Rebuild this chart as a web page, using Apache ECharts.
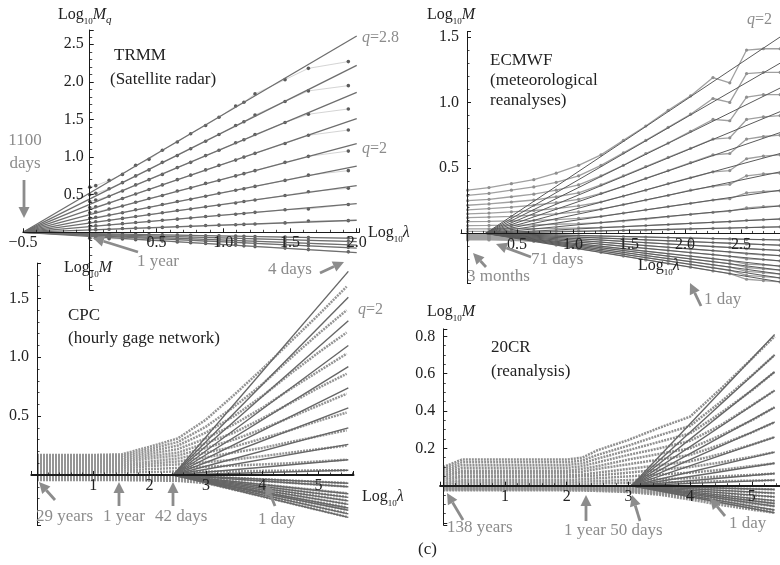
<!DOCTYPE html>
<html>
<head>
<meta charset="utf-8">
<script src="https://cdn.jsdelivr.net/npm/echarts@6/dist/echarts.min.js"></script>
<style>
  html, body { margin: 0; background: #fff; }
  #chart { width: 780px; height: 565px; }
</style>
</head>
<body>
<div id="chart"></div>
<script>
// ---------- TRMM (satellite radar) ----------
var trmmX = [0, 0.045, 0.145, 0.245, 0.344, 0.444, 0.544, 0.656, 0.756, 0.868, 0.968, 1.093, 1.155, 1.238, 1.463, 1.638, 1.937];
var trmmFitX = [-0.5, 2.0];
var trmmFitEnd = [2.61, 2.22, 1.86, 1.51, 1.18, 0.88, 0.62, 0.38, 0.16, -0.08, -0.125, -0.17, -0.21, -0.27];
var trmmM = [
  [0.60, 0.62, 0.69, 0.77, 0.89, 0.97, 1.09, 1.20, 1.31, 1.42, 1.53, 1.68, 1.73, 1.84, 2.03, 2.18, 2.27],
  [0.50, 0.52, 0.58, 0.66, 0.75, 0.83, 0.93, 1.02, 1.11, 1.21, 1.30, 1.42, 1.47, 1.56, 1.74, 1.88, 1.95],
  [0.41, 0.43, 0.48, 0.55, 0.63, 0.70, 0.77, 0.86, 0.93, 1.02, 1.09, 1.19, 1.23, 1.30, 1.46, 1.57, 1.64],
  [0.33, 0.34, 0.39, 0.45, 0.51, 0.57, 0.63, 0.70, 0.76, 0.83, 0.89, 0.96, 1.00, 1.05, 1.18, 1.29, 1.36],
  [0.26, 0.27, 0.31, 0.35, 0.40, 0.45, 0.49, 0.55, 0.59, 0.65, 0.69, 0.75, 0.78, 0.82, 0.93, 1.01, 1.08],
  [0.19, 0.20, 0.23, 0.26, 0.30, 0.33, 0.37, 0.41, 0.44, 0.48, 0.52, 0.56, 0.58, 0.61, 0.69, 0.76, 0.82],
  [0.13, 0.14, 0.16, 0.185, 0.21, 0.235, 0.26, 0.29, 0.31, 0.34, 0.36, 0.39, 0.41, 0.43, 0.49, 0.54, 0.585],
  [0.08, 0.085, 0.10, 0.115, 0.13, 0.145, 0.16, 0.175, 0.19, 0.21, 0.225, 0.24, 0.25, 0.265, 0.30, 0.31, 0.37],
  [0.035, 0.035, 0.04, 0.05, 0.055, 0.06, 0.065, 0.075, 0.08, 0.09, 0.095, 0.10, 0.105, 0.11, 0.125, 0.15, 0.155],
  [-0.015, -0.018, -0.02, -0.025, -0.027, -0.03, -0.034, -0.036, -0.04, -0.045, -0.047, -0.05, -0.053, -0.056, -0.062, -0.07, -0.075],
  [-0.03, -0.03, -0.035, -0.04, -0.045, -0.05, -0.055, -0.06, -0.065, -0.07, -0.075, -0.08, -0.085, -0.09, -0.10, -0.11, -0.12],
  [-0.045, -0.045, -0.05, -0.055, -0.06, -0.068, -0.075, -0.08, -0.09, -0.095, -0.10, -0.11, -0.115, -0.12, -0.135, -0.15, -0.165],
  [-0.06, -0.06, -0.065, -0.07, -0.075, -0.085, -0.09, -0.10, -0.11, -0.12, -0.125, -0.135, -0.14, -0.15, -0.17, -0.18, -0.20],
  [-0.08, -0.08, -0.085, -0.09, -0.10, -0.11, -0.115, -0.13, -0.14, -0.15, -0.16, -0.17, -0.18, -0.19, -0.21, -0.23, -0.26]
];
var trmmXLabels = [-0.5, 0.5, 1.0, 1.5, 2.0];
var trmmYLabels = [0.5, 1.0, 1.5, 2.0, 2.5];

// ---------- ECMWF (meteorological reanalyses) ----------
var ecmwfX = [0.06, 0.25, 0.45, 0.65, 0.85, 1.05, 1.25, 1.45, 1.65, 1.85, 2.05, 2.25, 2.4, 2.55, 2.7, 2.85];
var ecmwfFitX = [0.22, 2.85];
var ecmwfFitEnd = [1.50, 1.30, 1.11, 0.93, 0.77, 0.61, 0.47, 0.33, 0.21, 0.11, 0.05,
  -0.05, -0.09, -0.13, -0.17, -0.21, -0.25, -0.28, -0.31, -0.34, -0.37];
var ecmwfM = [
  [0.33, 0.35, 0.38, 0.41, 0.46, 0.52, 0.60, 0.71, 0.82, 0.94, 1.05, 1.19, 1.15, 1.40, 1.41, 1.41],
  [0.29, 0.305, 0.33, 0.355, 0.39, 0.44, 0.52, 0.615, 0.71, 0.81, 0.91, 1.03, 1.00, 1.22, 1.23, 1.23],
  [0.25, 0.26, 0.28, 0.30, 0.33, 0.37, 0.44, 0.52, 0.61, 0.69, 0.78, 0.87, 0.86, 1.04, 1.06, 1.06],
  [0.215, 0.225, 0.24, 0.255, 0.28, 0.31, 0.37, 0.44, 0.51, 0.58, 0.65, 0.72, 0.73, 0.87, 0.89, 0.90],
  [0.18, 0.19, 0.20, 0.215, 0.235, 0.26, 0.305, 0.36, 0.42, 0.48, 0.54, 0.60, 0.61, 0.72, 0.74, 0.75],
  [0.15, 0.155, 0.165, 0.175, 0.19, 0.21, 0.24, 0.285, 0.33, 0.38, 0.425, 0.47, 0.48, 0.57, 0.59, 0.60],
  [0.12, 0.125, 0.13, 0.14, 0.15, 0.165, 0.185, 0.22, 0.255, 0.29, 0.33, 0.36, 0.375, 0.44, 0.455, 0.46],
  [0.09, 0.092, 0.096, 0.10, 0.105, 0.115, 0.13, 0.155, 0.18, 0.205, 0.23, 0.255, 0.265, 0.31, 0.32, 0.325],
  [0.06, 0.061, 0.063, 0.066, 0.07, 0.075, 0.083, 0.095, 0.11, 0.128, 0.145, 0.16, 0.17, 0.195, 0.205, 0.21],
  [0.035, 0.035, 0.036, 0.037, 0.039, 0.042, 0.046, 0.052, 0.06, 0.068, 0.077, 0.085, 0.09, 0.10, 0.105, 0.11],
  [0.015, 0.015, 0.015, 0.016, 0.017, 0.018, 0.02, 0.023, 0.026, 0.03, 0.034, 0.038, 0.04, 0.045, 0.048, 0.05],
  [-0.005, -0.005, -0.007, -0.009, -0.012, -0.016, -0.02, -0.024, -0.028, -0.032, -0.036, -0.04, -0.042, -0.046, -0.048, -0.05],
  [-0.01, -0.01, -0.012, -0.016, -0.022, -0.028, -0.035, -0.042, -0.049, -0.056, -0.063, -0.07, -0.075, -0.08, -0.085, -0.09],
  [-0.015, -0.015, -0.017, -0.022, -0.031, -0.041, -0.05, -0.06, -0.07, -0.08, -0.09, -0.10, -0.107, -0.117, -0.124, -0.13],
  [-0.02, -0.02, -0.023, -0.029, -0.041, -0.054, -0.067, -0.08, -0.093, -0.106, -0.119, -0.132, -0.142, -0.156, -0.163, -0.17],
  [-0.025, -0.025, -0.027, -0.035, -0.05, -0.066, -0.082, -0.098, -0.114, -0.13, -0.146, -0.162, -0.175, -0.195, -0.20, -0.21],
  [-0.03, -0.03, -0.032, -0.041, -0.06, -0.079, -0.098, -0.117, -0.136, -0.155, -0.174, -0.193, -0.207, -0.235, -0.24, -0.25],
  [-0.035, -0.035, -0.037, -0.046, -0.067, -0.088, -0.109, -0.13, -0.152, -0.173, -0.194, -0.215, -0.231, -0.26, -0.27, -0.28],
  [-0.04, -0.04, -0.042, -0.051, -0.074, -0.098, -0.121, -0.145, -0.169, -0.192, -0.216, -0.24, -0.257, -0.29, -0.30, -0.31],
  [-0.045, -0.045, -0.047, -0.056, -0.081, -0.107, -0.133, -0.159, -0.185, -0.21, -0.236, -0.262, -0.281, -0.32, -0.33, -0.34],
  [-0.05, -0.05, -0.052, -0.061, -0.089, -0.117, -0.145, -0.173, -0.202, -0.23, -0.258, -0.286, -0.307, -0.35, -0.36, -0.37]
];
var ecmwfXLabels = [0.5, 1.0, 1.5, 2.0, 2.5];
var ecmwfYLabels = [0.5, 1.0, 1.5];

// ---------- CPC (hourly gage network) ----------
var cpcX = [0, 0.5, 1, 1.5, 2, 2.5, 3, 3.5, 4, 4.5, 5, 5.5];
var cpcFitX = [2.42, 5.53];
var cpcFitEnd = [1.73, 1.51, 1.31, 1.10, 0.92, 0.74, 0.57, 0.40, 0.26, 0.13, 0.04,
  -0.07, -0.10, -0.16, -0.19, -0.22, -0.25, -0.28, -0.30, -0.33, -0.36];
var cpcM = [
  [0.17, 0.17, 0.17, 0.175, 0.24, 0.31, 0.47, 0.68, 0.90, 1.13, 1.36, 1.60],
  [0.155, 0.155, 0.155, 0.16, 0.22, 0.28, 0.41, 0.58, 0.77, 0.99, 1.20, 1.40],
  [0.14, 0.14, 0.14, 0.145, 0.20, 0.25, 0.36, 0.50, 0.67, 0.86, 1.04, 1.21],
  [0.125, 0.125, 0.125, 0.13, 0.18, 0.22, 0.31, 0.43, 0.57, 0.73, 0.88, 1.03],
  [0.11, 0.11, 0.11, 0.115, 0.16, 0.19, 0.27, 0.36, 0.48, 0.61, 0.74, 0.86],
  [0.095, 0.095, 0.095, 0.10, 0.14, 0.165, 0.23, 0.30, 0.39, 0.49, 0.59, 0.69],
  [0.08, 0.08, 0.08, 0.085, 0.115, 0.14, 0.19, 0.24, 0.31, 0.38, 0.46, 0.53],
  [0.065, 0.065, 0.065, 0.07, 0.095, 0.115, 0.15, 0.19, 0.23, 0.28, 0.33, 0.38],
  [0.05, 0.05, 0.05, 0.053, 0.075, 0.09, 0.11, 0.13, 0.16, 0.19, 0.22, 0.25],
  [0.035, 0.035, 0.035, 0.037, 0.05, 0.06, 0.07, 0.08, 0.09, 0.10, 0.115, 0.13],
  [0.02, 0.02, 0.02, 0.021, 0.025, 0.03, 0.03, 0.03, 0.035, 0.035, 0.04, 0.04],
  [-0.005, -0.005, -0.005, -0.006, -0.008, -0.01, -0.014, -0.024, -0.036, -0.047, -0.058, -0.068],
  [-0.01, -0.01, -0.01, -0.011, -0.013, -0.016, -0.022, -0.035, -0.051, -0.067, -0.083, -0.098],
  [-0.014, -0.014, -0.014, -0.015, -0.018, -0.022, -0.031, -0.055, -0.08, -0.105, -0.13, -0.155],
  [-0.018, -0.018, -0.018, -0.019, -0.022, -0.026, -0.037, -0.066, -0.096, -0.126, -0.156, -0.186],
  [-0.022, -0.022, -0.022, -0.023, -0.026, -0.03, -0.043, -0.076, -0.111, -0.146, -0.181, -0.216],
  [-0.026, -0.026, -0.026, -0.027, -0.03, -0.034, -0.049, -0.087, -0.127, -0.166, -0.206, -0.246],
  [-0.03, -0.03, -0.03, -0.031, -0.034, -0.038, -0.055, -0.097, -0.142, -0.186, -0.231, -0.275],
  [-0.034, -0.034, -0.034, -0.035, -0.038, -0.042, -0.058, -0.104, -0.152, -0.20, -0.248, -0.295],
  [-0.038, -0.038, -0.038, -0.039, -0.042, -0.046, -0.064, -0.115, -0.168, -0.22, -0.273, -0.325],
  [-0.042, -0.042, -0.042, -0.043, -0.046, -0.05, -0.069, -0.125, -0.183, -0.24, -0.298, -0.355]
];
var cpcXLabels = [1, 2, 3, 4, 5];
var cpcYLabels = [0.5, 1.0, 1.5];

// ---------- 20CR (reanalysis) ----------
var twcrX = [0, 0.3, 1, 1.5, 2, 2.25, 2.5, 3, 3.5, 4, 4.5, 5, 5.37];
var twcrFitX = [3.05, 5.37];
var twcrFitEnd = [0.81, 0.70, 0.61, 0.51, 0.42, 0.34, 0.26, 0.18, 0.12, 0.065, 0.03,
  -0.02, -0.04, -0.06, -0.08, -0.095, -0.11, -0.13, -0.145];
var twcrM = [
  [0.10, 0.14, 0.14, 0.14, 0.14, 0.15, 0.19, 0.245, 0.31, 0.37, 0.52, 0.68, 0.80],
  [0.09, 0.125, 0.125, 0.125, 0.125, 0.135, 0.165, 0.215, 0.27, 0.32, 0.45, 0.59, 0.70],
  [0.08, 0.11, 0.11, 0.11, 0.11, 0.12, 0.145, 0.19, 0.235, 0.28, 0.39, 0.51, 0.61],
  [0.07, 0.095, 0.095, 0.095, 0.095, 0.105, 0.125, 0.165, 0.20, 0.24, 0.325, 0.43, 0.51],
  [0.06, 0.08, 0.08, 0.08, 0.08, 0.09, 0.105, 0.14, 0.17, 0.20, 0.27, 0.35, 0.42],
  [0.05, 0.07, 0.07, 0.07, 0.07, 0.075, 0.09, 0.115, 0.14, 0.165, 0.22, 0.285, 0.34],
  [0.04, 0.055, 0.055, 0.055, 0.055, 0.06, 0.07, 0.09, 0.11, 0.13, 0.17, 0.22, 0.26],
  [0.03, 0.045, 0.045, 0.045, 0.045, 0.05, 0.055, 0.07, 0.085, 0.10, 0.125, 0.155, 0.18],
  [0.02, 0.03, 0.03, 0.03, 0.03, 0.035, 0.04, 0.05, 0.06, 0.07, 0.085, 0.105, 0.12],
  [0.012, 0.02, 0.02, 0.02, 0.02, 0.022, 0.025, 0.03, 0.035, 0.04, 0.05, 0.058, 0.065],
  [0.005, 0.01, 0.01, 0.01, 0.01, 0.01, 0.012, 0.015, 0.018, 0.02, 0.024, 0.027, 0.03],
  [-0.003, -0.004, -0.004, -0.004, -0.004, -0.005, -0.005, -0.006, -0.007, -0.01, -0.014, -0.017, -0.02],
  [-0.006, -0.007, -0.007, -0.007, -0.007, -0.008, -0.009, -0.01, -0.014, -0.02, -0.028, -0.035, -0.04],
  [-0.009, -0.01, -0.01, -0.01, -0.01, -0.011, -0.012, -0.014, -0.02, -0.03, -0.042, -0.052, -0.06],
  [-0.012, -0.013, -0.013, -0.013, -0.013, -0.014, -0.016, -0.018, -0.027, -0.04, -0.055, -0.07, -0.08],
  [-0.015, -0.016, -0.016, -0.016, -0.016, -0.017, -0.019, -0.022, -0.032, -0.048, -0.066, -0.083, -0.095],
  [-0.018, -0.019, -0.019, -0.019, -0.019, -0.02, -0.022, -0.026, -0.037, -0.056, -0.077, -0.097, -0.11],
  [-0.021, -0.022, -0.022, -0.022, -0.022, -0.023, -0.025, -0.03, -0.043, -0.066, -0.092, -0.115, -0.13],
  [-0.024, -0.025, -0.025, -0.025, -0.025, -0.026, -0.028, -0.034, -0.048, -0.074, -0.103, -0.128, -0.145]
];
var twcrXLabels = [1, 2, 3, 4, 5];
var twcrYLabels = [0.2, 0.4, 0.6, 0.8];

// ---------- drawing ----------
var FONT = '"Liberation Serif", "DejaVu Serif", serif';
var GRAY = '#8c8c8c';
var INK = '#1a1a1a';

var myChart = echarts.init(document.getElementById('chart'), null, { renderer: 'canvas' });

// panel frames: pixel box + value ranges
var grids = [
  { left: 23, top: 30, width: 336.4, height: 260.2, x: [-0.5, 2.02], y: [-0.77, 2.69] },
  { left: 461, top: 31.7, width: 320.3, height: 251.5, x: [0, 2.86], y: [-0.38, 1.54] },
  { left: 31.4, top: 263.1, width: 322, height: 262.5, x: [-0.1, 5.62], y: [-0.43, 1.8] },
  { left: 440.2, top: 328.9, width: 340.6, height: 196, x: [-0.05, 5.47], y: [-0.21, 0.84] }
];

function pick(list, digits) {
  return function (v) {
    for (var i = 0; i < list.length; i++) {
      if (Math.abs(list[i] - v) < 1e-6) {
        return (v < 0 ? '\u2212' : '') + Math.abs(v).toFixed(digits);
      }
    }
    return '';
  };
}

// axis placed on the other axis' zero line by an inward offset
function axis(i, dim, o) {
  var g = grids[i], r = g[dim];
  var size = dim === 'x' ? g.height : g.width;
  var other = dim === 'x' ? g.y : g.x;
  var shift = o.offset != null ? o.offset : -(0 - other[0]) / (other[1] - other[0]) * size;
  var a = {
    type: 'value', gridIndex: i, min: r[0], max: r[1], z: 5, offset: shift,
    axisLine: { onZero: false, lineStyle: { color: INK, width: o.lw || 1 } },
    axisTick: { show: true, inside: true, length: 4, lineStyle: { color: INK, width: 1 } },
    minorTick: { show: true, splitNumber: o.minor, length: 2.5, lineStyle: { color: INK, width: 0.8 } },
    splitLine: { show: false },
    minorSplitLine: { show: false },
    axisLabel: {
      margin: o.margin, color: '#222', fontFamily: FONT, fontSize: 16,
      formatter: pick(o.labels, o.digits), showMinLabel: true, showMaxLabel: true
    }
  };
  if (o.interval) a.interval = o.interval; else a.splitNumber = o.split;
  return a;
}

function pairs(xs, ys) {
  return xs.map(function (x, k) { return [x, ys[k]]; });
}

var series = [];
function addPanel(i, xs, rows, fitX, fitEnd, st) {
  rows.forEach(function (ys) {
    series.push({
      type: 'line', xAxisIndex: i, yAxisIndex: i, data: pairs(xs, ys),
      symbol: st.dot ? 'circle' : 'none', symbolSize: st.dot || 0, showAllSymbol: true,
      lineStyle: { color: st.lineColor, width: st.lineWidth, type: st.lineType || 'solid' },
      itemStyle: { color: st.dotColor || st.lineColor },
      silent: true, animation: false, z: 2
    });
  });
  fitEnd.forEach(function (e) {
    series.push({
      type: 'line', xAxisIndex: i, yAxisIndex: i,
      data: [[fitX[0], 0], [fitX[1], e]],
      symbol: 'none', lineStyle: { color: st.fitColor, width: st.fitWidth },
      silent: true, animation: false, z: 3
    });
  });
}

addPanel(0, trmmX, trmmM, trmmFitX, trmmFitEnd,
  { dot: 3.6, dotColor: '#5c5c5c', lineColor: '#cfcfcf', lineWidth: 0.9, fitColor: '#6e6e6e', fitWidth: 1.3 });
addPanel(1, ecmwfX, ecmwfM, ecmwfFitX, ecmwfFitEnd,
  { dot: 3.2, dotColor: '#8f8f8f', lineColor: '#a0a0a0', lineWidth: 1.3, fitColor: '#5a5a5a', fitWidth: 1 });
addPanel(2, cpcX, cpcM, cpcFitX, cpcFitEnd,
  { lineColor: '#959595', lineWidth: 2.5, lineType: [2, 1], fitColor: '#666666', fitWidth: 1.4 });
addPanel(3, twcrX, twcrM, twcrFitX, twcrFitEnd,
  { lineColor: '#909090', lineWidth: 2.5, lineType: [2, 1], fitColor: '#666666', fitWidth: 1.4 });

// ---------- annotations ----------
function txt(x, y, s, o) {
  o = o || {};
  return {
    type: 'text', x: x, y: y, z: 100, silent: true,
    style: {
      text: s, fill: o.color || '#222', align: o.align || 'left', verticalAlign: 'middle',
      font: (o.italic ? 'italic ' : '') + (o.size || 17) + 'px ' + FONT
    }
  };
}

function logLabel(x, y, sym, sub) {
  var rich = {
    r: { fontFamily: FONT, fontSize: 16, lineHeight: 22, fill: '#222' },
    s: { fontFamily: FONT, fontSize: 9, lineHeight: 13, verticalAlign: 'bottom', fill: '#222' },
    i: { fontFamily: FONT, fontSize: 16, fontStyle: 'italic', lineHeight: 22, fill: '#222' },
    q: { fontFamily: FONT, fontSize: 11, fontStyle: 'italic', lineHeight: 11, verticalAlign: 'bottom', fill: '#222' }
  };
  var s = '{r|Log}{s|10}{i|' + sym + '}' + (sub ? '{q|' + sub + '}' : '');
  return { type: 'text', x: x, y: y, z: 100, silent: true,
    style: { text: s, rich: rich, verticalAlign: 'middle', align: 'left' } };
}

function qLabel(x, y, val) {
  return { type: 'text', x: x, y: y, z: 100, silent: true,
    style: {
      text: '{i|q}{r|=' + val + '}', verticalAlign: 'middle', align: 'left',
      rich: {
        i: { fontFamily: FONT, fontSize: 16, fontStyle: 'italic', fill: GRAY },
        r: { fontFamily: FONT, fontSize: 16, fill: GRAY }
      }
    } };
}

function arrow(x1, y1, x2, y2) {
  var a = Math.atan2(y2 - y1, x2 - x1), L = 11, W = 5.5;
  var bx = x2 - L * Math.cos(a), by = y2 - L * Math.sin(a);
  return [
    { type: 'line', z: 99, silent: true, shape: { x1: x1, y1: y1, x2: bx, y2: by },
      style: { stroke: GRAY, lineWidth: 2.8 } },
    { type: 'polygon', z: 99, silent: true,
      shape: { points: [[x2, y2], [bx + W * Math.sin(a), by - W * Math.cos(a)], [bx - W * Math.sin(a), by + W * Math.cos(a)]] },
      style: { fill: GRAY } }
  ];
}

var gfx = [
  logLabel(58, 15, 'M', 'q'),
  logLabel(427, 15, 'M'),
  logLabel(64, 268, 'M'),
  logLabel(427, 312, 'M'),
  logLabel(368, 233, '\u03bb'),
  logLabel(638, 266, '\u03bb'),
  logLabel(362, 497, '\u03bb'),

  txt(114, 56, 'TRMM'), txt(110, 80, '(Satellite radar)'),
  txt(490, 61, 'ECMWF'), txt(490, 81, '(meteorological'), txt(490, 101, 'reanalyses)'),
  txt(68, 316, 'CPC'), txt(68, 339, '(hourly gage network)'),
  txt(491, 348, '20CR'), txt(491, 372, '(reanalysis)'),
  txt(418, 550, '(c)'),

  qLabel(362, 38, '2.8'), qLabel(362, 149, '2'), qLabel(747, 20, '2'), qLabel(358, 310, '2'),

  txt(25, 141, '1100', { color: GRAY, align: 'center' }),
  txt(25, 164, 'days', { color: GRAY, align: 'center' }),
  txt(137, 262, '1 year', { color: GRAY }),
  txt(268, 270, '4 days', { color: GRAY }),
  txt(531, 260, '71 days', { color: GRAY }),
  txt(467, 277, '3 months', { color: GRAY }),
  txt(704, 300, '1 day', { color: GRAY }),
  txt(36, 517, '29 years', { color: GRAY }),
  txt(103, 517, '1 year', { color: GRAY }),
  txt(155, 517, '42 days', { color: GRAY }),
  txt(258, 520, '1 day', { color: GRAY }),
  txt(447, 528, '138 years', { color: GRAY }),
  txt(564, 531, '1 year 50 days', { color: GRAY }),
  txt(729, 524, '1 day', { color: GRAY })
];
[
  [24, 180, 24, 218], [138, 252, 93, 238], [320, 273, 344, 262],
  [531, 257, 496, 244], [486, 267, 473, 253], [701, 306, 690, 283],
  [55, 500, 39, 482], [119, 506, 119, 482], [173, 506, 173, 482], [275, 506, 266, 484],
  [463, 520, 447, 493], [586, 521, 586, 495], [640, 521, 632, 495], [725, 516, 710, 498]
].forEach(function (p) { gfx = gfx.concat(arrow(p[0], p[1], p[2], p[3])); });

var option = {
  backgroundColor: '#fff',
  animation: false,
  grid: grids.map(function (g) {
    return { left: g.left, top: g.top, width: g.width, height: g.height, outerBoundsMode: 'none' };
  }),
  xAxis: [
    axis(0, 'x', { interval: 0.5, minor: 5, labels: trmmXLabels, digits: 1, margin: 3 }),
    axis(1, 'x', { interval: 0.5, minor: 5, labels: ecmwfXLabels, digits: 1, margin: 3 }),
    axis(2, 'x', { split: 6, minor: 5, labels: cpcXLabels, digits: 0, margin: 3, lw: 2.2 }),
    axis(3, 'x', { split: 6, minor: 5, labels: twcrXLabels, digits: 0, margin: 3, lw: 2.2 })
  ],
  yAxis: [
    axis(0, 'y', { split: 7, minor: 5, labels: trmmYLabels, digits: 1, margin: 6 }),
    axis(1, 'y', { split: 4, minor: 5, labels: ecmwfYLabels, digits: 1, margin: 8, offset: -6 }),
    axis(2, 'y', { split: 4, minor: 5, labels: cpcYLabels, digits: 1, margin: 8 }),
    axis(3, 'y', { split: 5, minor: 4, labels: twcrYLabels, digits: 1, margin: 8 })
  ],
  series: series,
  graphic: { elements: gfx }
};
myChart.setOption(option);
window.addEventListener('resize', function () {
  myChart.resize();
});
</script>
</body>
</html>
